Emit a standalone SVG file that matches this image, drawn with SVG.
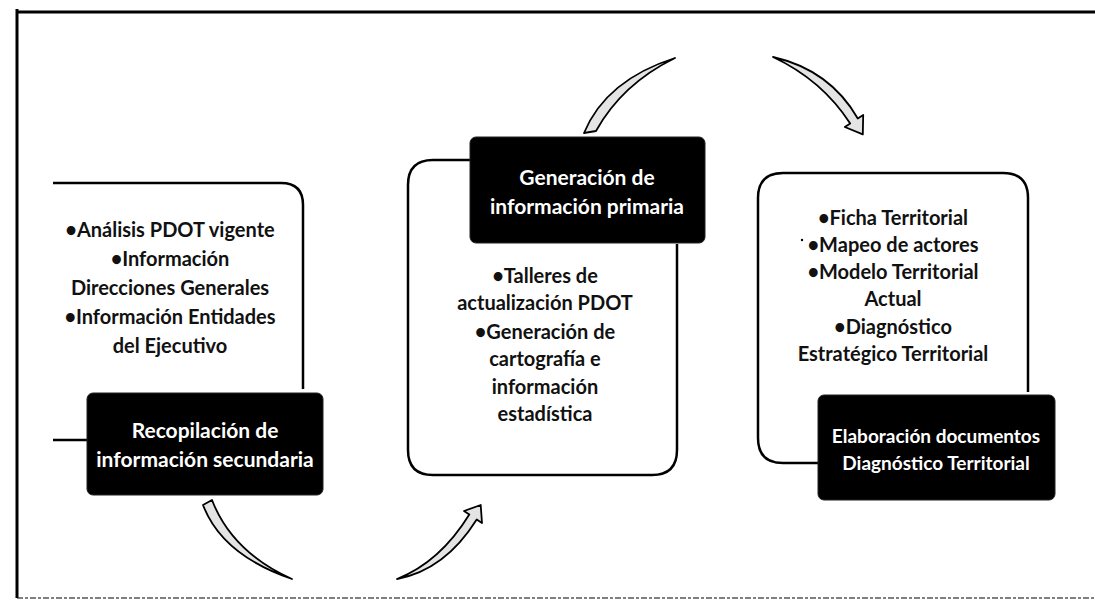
<svg xmlns="http://www.w3.org/2000/svg" width="1095" height="614" viewBox="0 0 1095 614">
<defs>
<style>
.frame{fill:none;stroke:#000}
.outline{fill:none;stroke:#000;stroke-width:2.5}
.blk{fill:#000;stroke:#222;stroke-width:1}
.t{font-family:Lato,"Open Sans","Liberation Sans",sans-serif;font-weight:700;font-size:20px;fill:#111;text-anchor:middle}
.w{font-family:Lato,"Open Sans","Liberation Sans",sans-serif;font-weight:700;font-size:21px;fill:#fff;text-anchor:middle}
.ws{font-size:19px}
.arr{fill:#e4e4e4;stroke:#000;stroke-width:1.8;stroke-linejoin:round}
</style>
</defs>
<rect width="1095" height="614" fill="#fff"/>
<g id="frame">
<line class="frame" x1="17" y1="9" x2="17" y2="598" stroke-width="3"/>
<line class="frame" x1="16" y1="12" x2="1095" y2="12" stroke-width="3"/>
<line class="frame" x1="17" y1="598" x2="1095" y2="598" stroke-width="1" stroke-dasharray="6 2 3 2" stroke="#333"/>
</g>
<g id="connectors">
<path class="arr" d="M203,505 Q222,555 292,579 Q232,552 212,500 Z"/>
<path class="arr" d="M397,579 Q445,570 476.7,519.5 L482,523 L480.7,505 L464,511 L469.3,514.5 Q440,562 397,579 Z"/>
<path class="arr" d="M584,133 Q606,80 675,58 Q622,84 596,131 Z"/>
<path class="arr" d="M773,57 Q830,70 857.8,118.5 L863.2,115 L862.8,134.4 L844.8,127 L850.2,123.5 Q822,80 773,57 Z"/>
</g>
<g id="node-recopilacion">
<path class="outline" d="M53,183 H281 Q303,183 303,205 V389"/>
<line class="outline" x1="53" y1="440" x2="88" y2="440"/>
<text class="t" x="170" y="237">•Análisis PDOT vigente</text>
<text class="t" x="170" y="266">•Información</text>
<text class="t" x="170" y="295">Direcciones Generales</text>
<text class="t" x="170" y="324">•Información Entidades</text>
<text class="t" x="170" y="353">del Ejecutivo</text>
<rect class="blk" x="87" y="393" width="236" height="102" rx="6"/>
<text class="w" x="205" y="438">Recopilación de</text>
<text class="w" x="205" y="467">información secundaria</text>
</g>
<g id="node-generacion">
<path class="outline" d="M470,160 H433 Q408,160 408,185 V450 Q408,475 433,475 H652 Q677,475 677,450 V244"/>
<rect class="blk" x="470" y="137" width="235" height="106" rx="6"/>
<text class="w" x="587" y="185">Generación de</text>
<text class="w" x="587" y="214">información primaria</text>
<text class="t" x="545" y="283">•Talleres de</text>
<text class="t" x="545" y="310">actualización PDOT</text>
<text class="t" x="545" y="339">•Generación de</text>
<text class="t" x="545" y="366">cartografía e</text>
<text class="t" x="545" y="394">información</text>
<text class="t" x="545" y="421">estadística</text>
</g>
<g id="node-elaboracion">
<path class="outline" d="M818,463 H783 Q758,463 758,438 V198 Q758,173 783,173 H1003 Q1028,173 1028,198 V392"/>
<circle cx="802" cy="240" r="1.2" fill="#000"/>
<text class="t" x="893" y="225">•Ficha Territorial</text>
<text class="t" x="893" y="252">•Mapeo de actores</text>
<text class="t" x="893" y="279">•Modelo Territorial</text>
<text class="t" x="893" y="306">Actual</text>
<text class="t" x="893" y="334">•Diagnóstico</text>
<text class="t" x="893" y="361">Estratégico Territorial</text>
<rect class="blk" x="818" y="395" width="237" height="105" rx="6"/>
<text class="w ws" x="936" y="443">Elaboración documentos</text>
<text class="w ws" x="936" y="470">Diagnóstico Territorial</text>
</g>
</svg>
